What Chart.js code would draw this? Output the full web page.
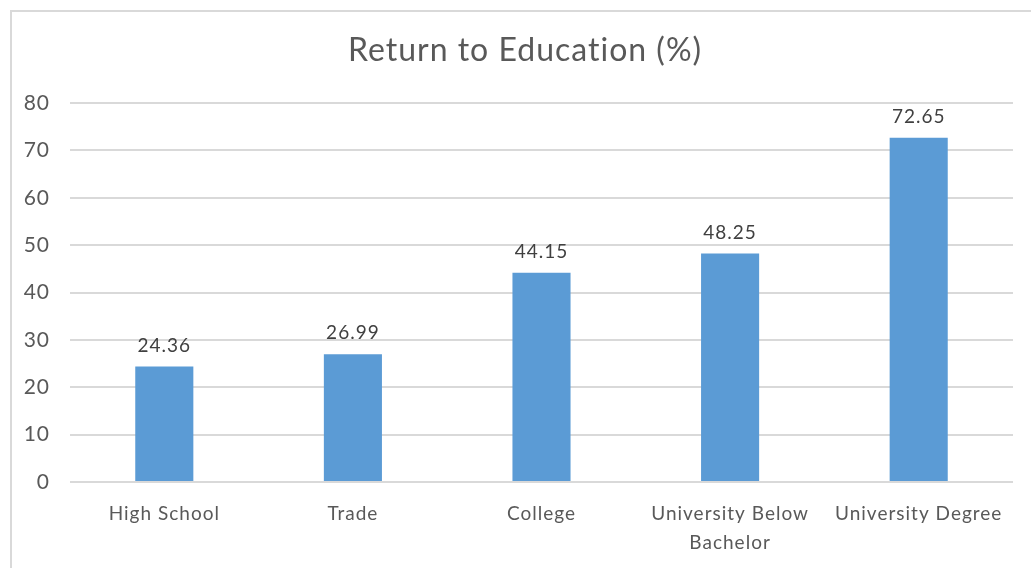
<!DOCTYPE html>
<html>
<head>
<meta charset="utf-8">
<script src="https://cdn.jsdelivr.net/npm/chart.js@4"></script>
<style>
  html, body { margin: 0; padding: 0; background: #fff; overflow: hidden; }
  #frame {
    position: absolute; left: 10px; top: 10px;
    width: 1040px; height: 600px;
    border: 2px solid #d9d9d9; box-sizing: border-box;
  }
  #wrap { position: absolute; left: 10px; top: 10px; width: 1030px; height: 580px; }
</style>
</head>
<body>
<div id="frame"></div>
<div id="wrap"><canvas id="myChart" width="1030" height="580"></canvas></div>
<script>
const categories = ["High School", "Trade", "College", ["University Below", "Bachelor"], "University Degree"];
const returns = [24.36, 26.99, 44.15, 48.25, 72.65];
const yTicks = [0, 10, 20, 30, 40, 50, 60, 70, 80];

const FONT = "Lato, 'Open Sans', sans-serif";

// loose text spacing like the original rendering
const spacing = {
  id: "spacing",
  beforeLayout(chart) { chart.ctx.letterSpacing = "1px"; },
  beforeDraw(chart) { chart.ctx.letterSpacing = "1px"; }
};

// value labels above each bar
const barLabels = {
  id: "barLabels",
  afterDatasetsDraw(chart) {
    const ctx = chart.ctx;
    const meta = chart.getDatasetMeta(0);
    ctx.save();
    ctx.letterSpacing = "1px";
    ctx.font = "19px " + FONT;
    ctx.fillStyle = "#404040";
    ctx.textAlign = "center";
    ctx.textBaseline = "middle";
    meta.data.forEach((bar, i) => {
      ctx.fillText(returns[i].toFixed(2), bar.x, bar.y - 21);
    });
    ctx.restore();
  }
};

const ctx = document.getElementById("myChart").getContext("2d");
const chart = new Chart(ctx, {
  type: "bar",
  data: {
    labels: categories,
    datasets: [{
      label: "Return to Education (%)",
      data: returns,
      backgroundColor: "#5B9BD5",
      categoryPercentage: 1,
      barPercentage: 0.308
    }]
  },
  options: {
    responsive: false,
    animation: false,
    layout: { padding: 0 },
    plugins: {
      legend: { display: false },
      tooltip: { enabled: false },
      title: {
        display: true,
        text: "Return to Education (%)",
        color: "#595959",
        font: { family: FONT, size: 32, weight: "normal" },
        padding: { top: 21, bottom: 33.6 }
      }
    },
    scales: {
      x: {
        grid: { display: false, drawTicks: false },
        border: { display: false },
        ticks: {
          color: "#595959",
          font: { family: FONT, size: 19, lineHeight: 1.5 },
          padding: 18,
          maxRotation: 0,
          autoSkip: false
        },
        afterFit: s => { s.height = 108; }
      },
      y: {
        min: 0,
        max: 80,
        afterBuildTicks: s => { s.ticks = yTicks.map(v => ({ value: v })); },
        grid: { color: "#d9d9d9", lineWidth: 2, drawTicks: false },
        border: { display: false },
        ticks: {
          color: "#595959",
          font: { family: FONT, size: 21 },
          padding: 20
        },
        afterFit: s => { s.width = 60; }
      },
      // empty right-hand spacer so the title stays centred on the whole chart
      yRight: {
        position: "right",
        min: 0,
        max: 80,
        grid: { display: false, drawTicks: false },
        border: { display: false },
        ticks: { display: false },
        afterFit: s => { s.width = 27; }
      }
    }
  },
  plugins: [spacing, barLabels]
});
</script>
</body>
</html>
